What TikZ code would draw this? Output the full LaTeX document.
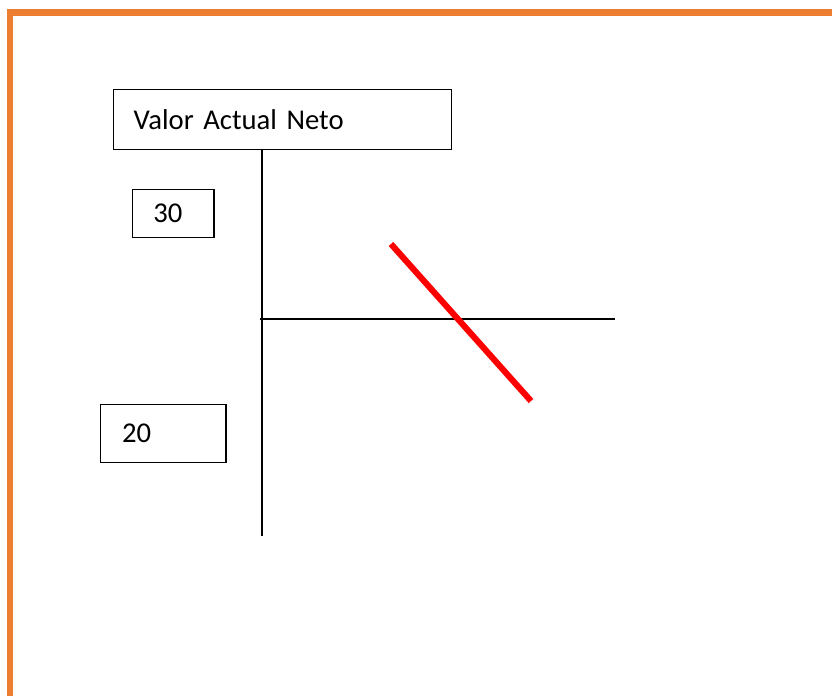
\documentclass[tikz,border=0pt]{standalone}
\usepackage{fontspec}
\setmainfont{Carlito}
\usetikzlibrary{positioning}
\definecolor{vanorange}{RGB}{237,125,49}
\definecolor{vanred}{RGB}{255,0,0}

\begin{document}
\begin{tikzpicture}[x=0.75pt, y=-0.75pt, font=\fontsize{21.5}{26}\selectfont,
          vb/.style ={draw, line width=1.1pt, align=left, inner ysep=0pt, anchor=north west},
          ax/.style ={draw, line width=1pt},
          rd/.style ={draw=vanred, line width=4.6pt},
          fr/.style ={draw=vanorange, line width=5pt, line join=miter}]
        \useasboundingbox (0,0) rectangle (832,696);
        % frame
        \draw[fr] (10,700) -- (10,12.5) -- (836,12.5);
        % boxes
        \node[vb, text width=223.5pt, inner xsep=15pt, minimum height=45pt] (van) at (113,89) {Valor Actual Neto};
        \node[vb, text width=30pt, inner xsep=15.5pt, minimum height=36pt] (v30) at (132,189) {30};
        \node[vb, text width=62pt, inner xsep=16pt, minimum height=43.5pt] (v20) at (100,404) {20};
        % axes
        \coordinate (ytop) at (262,149);
        \coordinate (ybot) at (262,536);
        \coordinate (xl) at (260,319);
        \coordinate (xr) at (615,319);
        \draw[ax] (ytop) -- (ybot);
        \draw[ax] (xl) -- (xr);
        % van line
        \coordinate (r1) at (391,244);
        \coordinate (r2) at (531,401);
        \draw[rd] (r1) -- (r2);
      \end{tikzpicture}
\end{document}
